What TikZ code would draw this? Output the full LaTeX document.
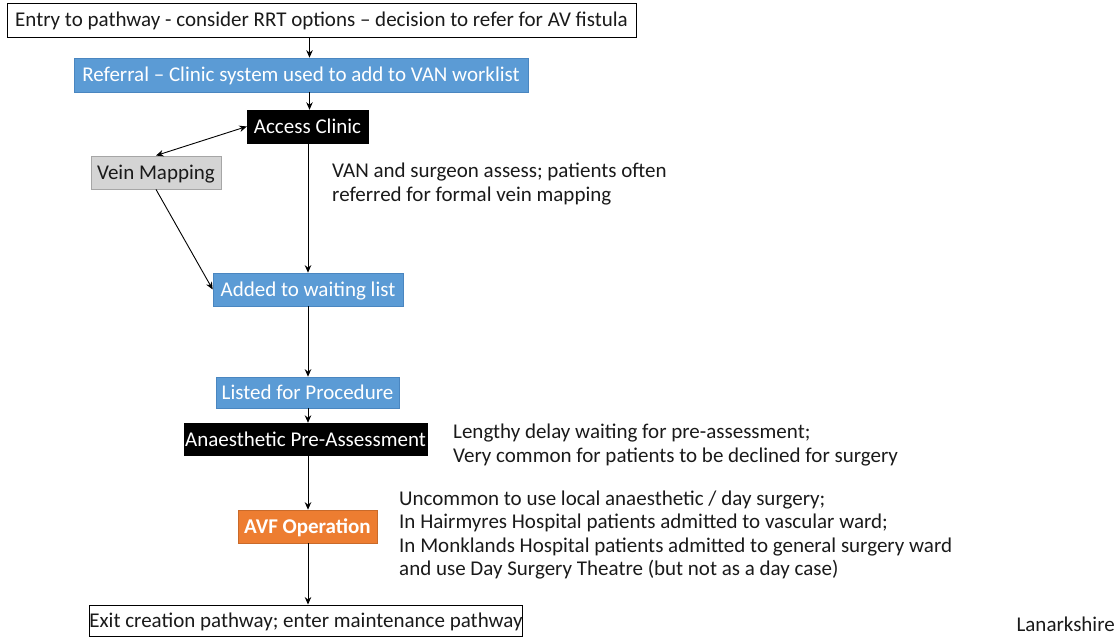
\documentclass[tikz,border=0pt]{standalone}
\usepackage{fontspec}
\setmainfont{Carlito}
\usetikzlibrary{arrows.meta}
\definecolor{stepblue}{HTML}{5B9BD5}
\definecolor{stepblueedge}{HTML}{4A86C0}
\definecolor{steporange}{HTML}{ED7D31}
\definecolor{stepgrey}{HTML}{D4D4D4}
\definecolor{stepgreyedge}{HTML}{A6A6A6}
\definecolor{notetext}{HTML}{1A1A1A}
\begin{document}
\begin{tikzpicture}[x=1pt,y=-1pt,
  txt/.style={font=\fontsize{21}{23.5}\selectfont},
  box/.style={txt,inner sep=0pt,align=center,text height=17pt,text depth=3pt},
  plainbox/.style={box,draw=black,line width=0.9pt,fill=white,text=notetext},
  bluebox/.style={box,draw=stepblueedge,line width=0.6pt,fill=stepblue,text=white},
  blackbox/.style={box,fill=black,draw=black,text=white},
  greybox/.style={box,fill=stepgrey,draw=stepgreyedge,line width=0.9pt,text=notetext},
  orangebox/.style={box,fill=steporange,draw=steporange!85!black,line width=0.6pt,text=white,font=\fontsize{21}{23.5}\selectfont\bfseries},
  note/.style={txt,anchor=west,align=left,inner sep=0pt,text=notetext},
  arr/.style={-{Stealth[length=7.5pt,width=6.5pt]},line width=0.9pt,black},
  darr/.style={{Stealth[length=7.5pt,width=6.5pt]}-{Stealth[length=7.5pt,width=6.5pt]},line width=0.9pt,black}
]
\useasboundingbox (0,0) rectangle (1117,644);

% main column of steps
\node[plainbox,minimum width=629pt,minimum height=34pt] (entry) at (321.5,20)
  {Entry to pathway - consider RRT options -- decision to refer for AV fistula};
\node[bluebox,minimum width=454pt,minimum height=34pt] (referral) at (301,75)
  {Referral -- Clinic system used to add to VAN worklist};
\node[blackbox,minimum width=121pt,minimum height=33pt] (access) at (307.5,126.5) {Access Clinic};
\node[greybox,minimum width=130pt,minimum height=33pt] (vein) at (156,172.5) {Vein Mapping};
\node[bluebox,minimum width=190pt,minimum height=33pt] (added) at (308,289.5) {Added to waiting list};
\node[bluebox,minimum width=183pt,minimum height=31pt] (listed) at (307.5,392.5) {Listed for Procedure};
\node[blackbox,minimum width=243pt,minimum height=32pt] (anaes) at (305.5,439) {Anaesthetic Pre-Assessment};
\node[orangebox,minimum width=139pt,minimum height=33pt] (avf) at (307.5,526.5) {AVF Operation};
\node[plainbox,minimum width=432pt,minimum height=31pt] (exit) at (306,620.5)
  {Exit creation pathway; enter maintenance pathway};

% side notes
\node[note] (note1) at (332,184) {VAN and surgeon assess; patients often\\referred for formal vein mapping};
\node[note] (note2) at (453,445) {Lengthy delay waiting for pre-assessment;\\Very common for patients to be declined for surgery};
\node[note] (note3) at (399,535) {Uncommon to use local anaesthetic / day surgery;\\In Hairmyres Hospital patients admitted to vascular ward;\\In Monklands Hospital patients admitted to general surgery ward\\and use Day Surgery Theatre (but not as a day case)};
\node[txt,anchor=east,inner sep=0pt,text=notetext] (region) at (1115,624) {Lanarkshire};

% connectors
\coordinate (col) at (309.5,0);
\draw[arr] (entry.south -| col) -- (referral.north -| col);
\draw[arr] (referral.south -| col) -- (access.north -| col);
\draw[darr] (vein.north) -- (access.west);
\draw[arr] (vein.south) -- (added.west);
\draw[arr] (access.south -| added) -- (added.north);
\draw[arr] (added.south) -- (listed.north -| added);
\draw[arr] (listed.south -| added) -- (anaes.north -| added);
\draw[arr] (anaes.south -| added) -- (avf.north -| added);
\draw[arr] (avf.south -| added) -- (exit.north -| added);
\end{tikzpicture}
\end{document}
